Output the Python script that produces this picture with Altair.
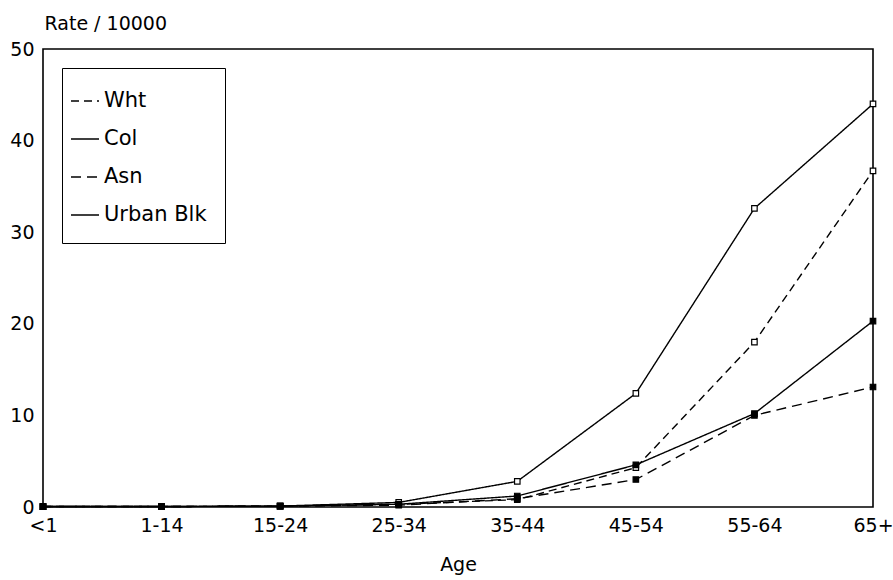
import altair as alt
import pandas as pd

ages = ["<1", "1-14", "15-24", "25-34", "35-44", "45-54", "55-64", "65+"]
series = ["Wht", "Col", "Asn", "Urban Blk"]
wht = [0.05, 0.05, 0.1, 0.3, 0.8, 4.3, 18.0, 36.7]
col = [0.05, 0.05, 0.1, 0.5, 2.8, 12.4, 32.6, 44.0]
asn = [0.05, 0.05, 0.1, 0.2, 0.9, 3.0, 10.0, 13.1]
urb = [0.05, 0.05, 0.1, 0.3, 1.2, 4.6, 10.2, 20.3]

rows = []
for name, vals in zip(series, [wht, col, asn, urb]):
    for a, v in zip(ages, vals):
        rows.append({"Age": a, "Series": name, "Rate": v})
df = pd.DataFrame(rows)

FONT = "DejaVu Sans"

x = alt.X("Age:N", sort=ages, scale=alt.Scale(type="point", padding=0),
          axis=alt.Axis(title="Age", labelAngle=0, ticks=False, domain=False,
                        labelPadding=9, titlePadding=20))
y = alt.Y("Rate:Q", scale=alt.Scale(domain=[0, 50], nice=False),
          axis=alt.Axis(title="Rate / 10000", values=[0, 10, 20, 30, 40, 50],
                        ticks=False, domain=False, grid=False, labelPadding=9,
                        titleAngle=0, titleAlign="left", titleBaseline="alphabetic",
                        titleX=1, titleY=-20))

leg = alt.Legend(title=None, orient="none", legendX=19, legendY=19,
                 symbolType="stroke", symbolSize=784, symbolOffset=-10,
                 symbolStrokeColor="black",
                 labelFont=FONT, labelFontSize=21, labelOffset=4,
                 labelColor="black", rowPadding=13,
                 padding=18, strokeColor="black",
                 labelLimit=300, fillColor="white")

lines = alt.Chart(df).mark_line(color="black").encode(
    x=x, y=y,
    strokeDash=alt.StrokeDash("Series:N", sort=series,
                              scale=alt.Scale(domain=series,
                                              range=[[8, 5], [1, 0], [10, 6], [1, 0]]),
                              legend=leg),
    strokeWidth=alt.StrokeWidth("Series:O", sort=series,
                                scale=alt.Scale(domain=series, range=[1.4, 1.4, 2.4, 2.6]),
                                legend=leg),
)

points = alt.Chart(df).mark_point(shape="square", size=30, stroke="black",
                                  strokeWidth=1.2, opacity=1, filled=False).encode(
    x=x, y=y,
    fill=alt.Fill("Series:N", scale=alt.Scale(domain=series,
                                               range=["white", "white", "black", "black"]),
                  legend=None),
)

chart = (lines + points).properties(
    width=830, height=458,
    autosize=alt.AutoSizeParams(type="none"),
    padding={"left": 43, "top": 49, "right": 20, "bottom": 73},
    background="white",
).configure_view(
    stroke="black", strokeWidth=1.6
).configure_axis(
    labelFont=FONT, titleFont=FONT, labelFontSize=19, titleFontSize=19,
    labelColor="black", titleColor="black", titleFontWeight="normal",
)

chart.save("out.html", embed_options={"renderer": "svg", "actions": False})
